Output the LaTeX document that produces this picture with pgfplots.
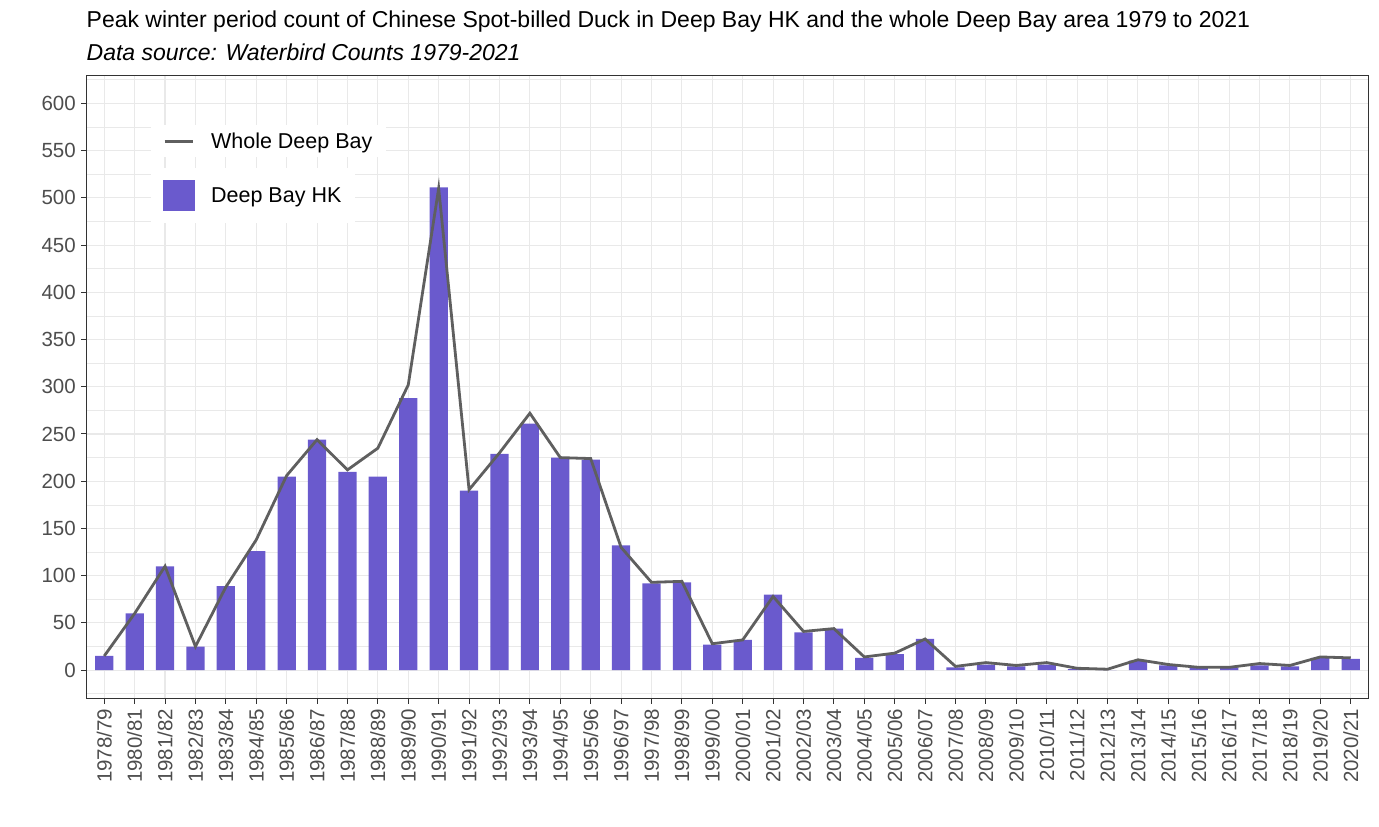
\documentclass[border=0pt]{standalone}
\usepackage{pgfplots}
\pgfplotsset{compat=1.18}
\usepackage{fontspec}
\setmainfont{Liberation Sans}
\definecolor{barcol}{HTML}{6A5ACD}
\definecolor{linecol}{HTML}{5F5F5F}
\definecolor{gridcol}{HTML}{E9E9E9}
\definecolor{framecol}{HTML}{333333}
\definecolor{tickcol}{HTML}{4D4D4D}
\begin{document}
\begin{tikzpicture}
\path[use as bounding box] (0bp,0bp) rectangle (1379bp,-827bp);
\node[anchor=base west, inner sep=0pt, font=\fontsize{23bp}{27bp}\selectfont] at (86.5bp,-27.5bp) {Peak winter period count of Chinese Spot-billed Duck in Deep Bay HK and the whole Deep Bay area 1979 to 2021};
\node[anchor=base west, inner sep=0pt, font=\fontsize{23bp}{27bp}\selectfont\itshape] at (86.5bp,-60.5bp) {Data source: Waterbird Counts 1979-2021};
\begin{axis}[
  at={(86bp,-698.5bp)}, anchor=south west,
  scale only axis, width=1283bp, height=623.5bp,
  xmin=-0.6, xmax=41.6, ymin=-30, ymax=630,
  xtick={0,...,41},
  xticklabels={1978/79,1980/81,1981/82,1982/83,1983/84,1984/85,1985/86,1986/87,1987/88,1988/89,1989/90,1990/91,1991/92,1992/93,1993/94,1994/95,1995/96,1996/97,1997/98,1998/99,1999/00,2000/01,2001/02,2002/03,2003/04,2004/05,2005/06,2006/07,2007/08,2008/09,2009/10,2010/11,2011/12,2012/13,2013/14,2014/15,2015/16,2016/17,2017/18,2018/19,2019/20,2020/21},
  ytick={0,50,...,600},
  minor ytick={-25,25,...,625},
  grid=both,
  major grid style={color=gridcol, line width=1.1bp},
  minor grid style={color=gridcol, line width=0.6bp},
  axis line style={color=framecol, line width=1bp},
  tick style={color=framecol, line width=1bp},
  tick align=outside, tick pos=left,
  major tick length=5bp, minor tick length=0bp,
  /pgf/number format/assume math mode=true,
  ticklabel style={font=\fontsize{20.5bp}{24bp}\selectfont, text=tickcol},
  xticklabel style={rotate=90, anchor=east, inner sep=0pt},
  yticklabel style={anchor=east, inner sep=0pt},
  xticklabel shift=5bp, yticklabel shift=5bp,
  legend style={at={(axis description cs:0.0507,0.9198)}, anchor=north west,
    fill=white, draw=none, inner xsep=12bp, inner ysep=1bp,
    column sep=15bp, font=\fontsize{21.5bp}{25bp}\selectfont,
    cells={anchor=west, inner sep=0pt}},
]
\addplot[ybar, bar width=0.6, fill=barcol, draw=none, forget plot] coordinates {
(0,15) (1,60) (2,110) (3,25) (4,89) (5,126) (6,205) (7,244) (8,210) (9,205)
(10,288) (11,511) (12,190) (13,229) (14,261) (15,225) (16,223) (17,132) (18,92) (19,93)
(20,27) (21,32) (22,80) (23,40) (24,44) (25,13) (26,17) (27,33) (28,3) (29,6)
(30,4) (31,6) (32,1) (33,0) (34,10) (35,5) (36,3) (37,3) (38,5) (39,4)
(40,13) (41,12)};
\addplot[color=linecol, line width=2.8bp, mark=none,
  legend image code/.code={\path[draw=none, fill=none] (0bp,-15bp) rectangle (30bp,15bp); \draw[line width=2.8bp, color=linecol] (1bp,0bp) -- (29bp,0bp);}] coordinates {
(0,15) (1,60) (2,110) (3,25) (4,88) (5,138) (6,206) (7,244) (8,212) (9,235)
(10,302) (11,510) (12,191) (13,230) (14,272) (15,225) (16,224) (17,130) (18,93) (19,94)
(20,28) (21,32) (22,78) (23,41) (24,44) (25,14) (26,18) (27,33) (28,4) (29,8)
(30,5) (31,8) (32,2) (33,1) (34,11) (35,6) (36,3) (37,3) (38,7) (39,5)
(40,14) (41,13)};
\addlegendentry{Whole Deep Bay}
\end{axis}
\begin{axis}[
  at={(86bp,-698.5bp)}, anchor=south west,
  scale only axis, width=1283bp, height=623.5bp,
  xmin=-0.6, xmax=41.6, ymin=-30, ymax=630,
  hide axis,
  legend style={at={(axis description cs:0.0507,0.8508)}, anchor=north west,
    fill=white, draw=none, inner xsep=12bp, inner ysep=12bp,
    column sep=15bp, font=\fontsize{21.5bp}{25bp}\selectfont,
    cells={anchor=west, inner sep=0pt}},
]
\addlegendimage{legend image code/.code={\fill[barcol] (0bp,-15bp) rectangle (30.5bp,15bp);}}
\addlegendentry{Deep Bay HK}
\end{axis}
\end{tikzpicture}
\end{document}
